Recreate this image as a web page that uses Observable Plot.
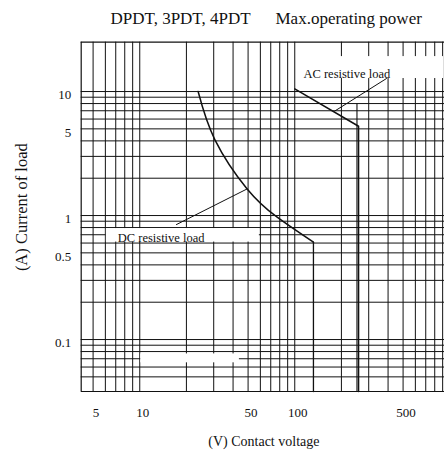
<!DOCTYPE html>
<html>
<head>
<meta charset="utf-8">
<script src="https://cdn.jsdelivr.net/npm/d3@7"></script>
<script src="https://cdn.jsdelivr.net/npm/@observablehq/plot@0.6"></script>
<style>
  html, body { margin: 0; padding: 0; background: #fff; }
  svg text { font-family: "Liberation Serif", "Times New Roman", Times, serif !important; }
</style>
</head>
<body>
<div id="chart"></div>
<script>
// ---- texts ----
const titleLeft = "DPDT, 3PDT, 4PDT";
const titleRight = "Max.operating power";
const xTitle = "(V) Contact voltage";
const yTitle = "(A) Current of load";

// ---- axes ----
const xTicks = [5, 10, 50, 100, 500];
const yTicks = [10, 5, 1, 0.5, 0.1];
const xGrid = [5, 6, 7, 8, 9, 10, 20, 30, 40, 50, 60, 70, 80, 90, 100, 200, 300, 400, 500, 600, 700, 800, 900];
const yGrid = [10, 9, 8, 7, 6, 5, 4, 3, 2, 1, 0.9, 0.8, 0.7, 0.6, 0.5, 0.4, 0.3, 0.2, 0.1, 0.09, 0.08, 0.07, 0.06, 0.05];
const xDomain = [4.19, 925];
const yDomain = [0.0381, 25];

// ---- DC resistive load (curve, then cut-off) ----
const dcVolts = [23.8, 30.5, 49.3, 77, 132];
const dcAmps = [10.0, 4.1, 1.64, 0.97, 0.61];
const dcCutVolts = [132, 132];
const dcCutAmps = [0.61, 0.0381];

// ---- AC resistive load ----
const acVolts = [100, 258, 258];
const acAmps = [10.5, 5.25, 0.0381];
const acSecondVolts = [252, 252];
const acSecondAmps = [8, 0.0381];

// ---- labels and leader lines ----
const labelNames = ["AC resistive load", "DC resistive load"];
const labelVolts = [113.8, 7.21];
const labelAmps = [12.83, 0.617];
const acLeaderVolts = [390.5, 181.1];
const acLeaderAmps = [12.73, 6.96];
const dcLeaderVolts = [17.25, 49.3];
const dcLeaderAmps = [0.846, 1.64];

// ---- blanked areas of the grid ----
const blankV1 = [6, 10, 105];
const blankV2 = [60, 44.6, 925];
const blankI1 = [0.6, 0.0637, 12.5];
const blankI2 = [0.8, 0.078, 19.5];

const pts = (vs, is) => vs.map((v, k) => ({v, i: is[k]}));
const blanks = blankV1.map((v, k) => ({v1: v, v2: blankV2[k], i1: blankI1[k], i2: blankI2[k]}));
const labels = labelNames.map((t, k) => ({t, v: labelVolts[k], i: labelAmps[k]}));

const serif = '"Liberation Serif", "Times New Roman", Times, serif';
const ink = "#111";
const txt = {fontFamily: serif, fill: ink};

const chart = Plot.plot({
  width: 444,
  height: 450,
  marginLeft: 80.7,
  marginRight: 0,
  marginTop: 41.7,
  marginBottom: 59,
  style: {fontFamily: serif, background: "#fff", color: ink, overflow: "visible"},
  x: {type: "log", domain: xDomain, label: null, axis: null},
  y: {type: "log", domain: yDomain, label: null, axis: null},
  marks: [
    Plot.ruleX(xGrid, {stroke: ink, strokeWidth: 1}),
    Plot.ruleY(yGrid, {stroke: ink, strokeWidth: 1}),
    Plot.rect(blanks, {x1: "v1", x2: "v2", y1: "i1", y2: "i2", fill: "#fff", inset: 1}),
    Plot.ruleY([yDomain[1]], {stroke: ink, strokeWidth: 1.2}),
    Plot.ruleY([yDomain[0]], {stroke: ink, strokeWidth: 1.2}),
    Plot.ruleX([xDomain[0]], {stroke: ink, strokeWidth: 1.2}),
    Plot.line(pts(dcVolts, dcAmps), {x: "v", y: "i", curve: "natural", stroke: ink, strokeWidth: 1.5}),
    Plot.line(pts(dcCutVolts, dcCutAmps), {x: "v", y: "i", stroke: ink, strokeWidth: 1.3}),
    Plot.line(pts(acVolts, acAmps), {x: "v", y: "i", stroke: ink, strokeWidth: 1.5}),
    Plot.line(pts(acSecondVolts, acSecondAmps), {x: "v", y: "i", stroke: ink, strokeWidth: 1.1}),
    Plot.line(pts(acLeaderVolts, acLeaderAmps), {x: "v", y: "i", stroke: ink, strokeWidth: 1}),
    Plot.line(pts(dcLeaderVolts, dcLeaderAmps), {x: "v", y: "i", stroke: ink, strokeWidth: 1}),
    Plot.text(labels, {x: "v", y: "i", text: "t", textAnchor: "start", lineAnchor: "bottom", fontSize: 12.5, ...txt}),
    // tick labels
    Plot.text(xTicks, {x: d => d, text: d => String(d), frameAnchor: "bottom", lineAnchor: "top", dy: 16, dx: 3, fontSize: 13, ...txt}),
    Plot.text(yTicks, {y: d => d, text: d => String(d), frameAnchor: "left", textAnchor: "end", lineAnchor: "middle", dx: -10, dy: 3.5, fontSize: 13, ...txt}),
    // titles
    Plot.text([titleLeft], {frameAnchor: "top-left", dx: 110 - 80.7, dy: 23 - 41.7, textAnchor: "start", lineAnchor: "bottom", fontSize: 17, ...txt}),
    Plot.text([titleRight], {frameAnchor: "top-left", dx: 275 - 80.7, dy: 23 - 41.7, textAnchor: "start", lineAnchor: "bottom", fontSize: 17, ...txt}),
    Plot.text([yTitle], {frameAnchor: "left", rotate: -90, dx: 21 - 80.7, dy: 206.7 - 216.35, textAnchor: "middle", lineAnchor: "middle", fontSize: 16.5, ...txt}),
    Plot.text([xTitle], {frameAnchor: "bottom", dx: 1, dy: 50, textAnchor: "middle", lineAnchor: "middle", fontSize: 14, ...txt})
  ]
});
document.getElementById("chart").appendChild(chart);
</script>
</body>
</html>
